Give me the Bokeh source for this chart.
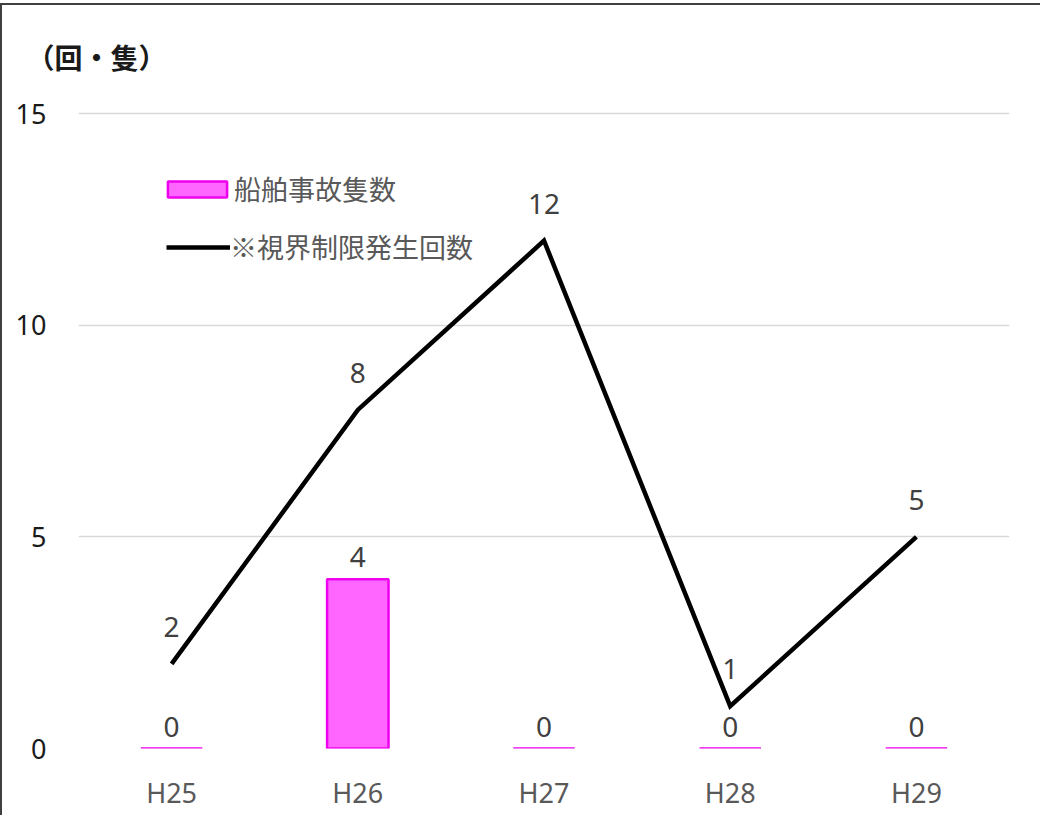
from bokeh.plotting import figure
from bokeh.models import (ColumnDataSource, FactorRange, Range1d, FixedTicker,
                          LabelSet, Legend, LegendItem)
from bokeh.core.properties import value
from bokeh.embed import file_html
from bokeh.resources import INLINE

years = ["H25", "H26", "H27", "H28", "H29"]
accidents = [0, 4, 0, 0, 0]
visibility = [2, 8, 12, 1, 5]
y_ticks = [0, 5, 10, 15]
unit_label = "（回・隻）"
bar_name = "船舶事故隻数"
line_name = "※視界制限発生回数"

src = ColumnDataSource(dict(x=years, acc=accidents, vis=visibility,
                            acc_t=[str(v) for v in accidents],
                            vis_t=[str(v) for v in visibility]))

p = figure(width=1040, height=812, output_backend="svg", toolbar_location=None,
           x_range=FactorRange(*years, range_padding=0), y_range=Range1d(0, 15.1),
           min_border_left=76, min_border_right=33, min_border_bottom=69,
           min_border_top=104, title=unit_label)
p.styles = {"border-left": "2px solid #404040", "border-top": "2px solid #404040",
            "margin-top": "3px"}
p.outline_line_color = None
p.background_fill_color = "white"
p.border_fill_color = "white"

p.title.text_font = "Noto Sans CJK JP"
p.title.text_font_size = "28px"
p.title.text_font_style = "bold"
p.title.text_color = "#1a1a1a"
p.title.align = "left"
p.title.vertical_align = "top"
p.title.offset = -52
p.title.standoff = 61

bars = p.vbar(x="x", top="acc", bottom=0, width=0.33, source=src,
              fill_color="#FF66FF", line_color="#EE00EE", line_width=2.5)
line = p.line(x="x", y="vis", source=src, line_color="black", line_width=4.5,
              line_join="miter")

p.xgrid.grid_line_color = None
p.ygrid.grid_line_color = "#d9d9d9"
p.ygrid.grid_line_width = 1.5
p.yaxis.ticker = FixedTicker(ticks=y_ticks)
for ax in (p.xaxis, p.yaxis):
    ax.axis_line_color = None
    ax.major_tick_line_color = None
    ax.minor_tick_line_color = None
    ax.major_tick_out = 0
    ax.major_tick_in = 0
    ax.major_label_text_font = "Noto Sans"
p.yaxis.major_label_text_font_size = "27px"
p.yaxis.major_label_text_color = "#1a1a1a"
p.yaxis.major_label_standoff = 32
p.xaxis.major_label_text_font_size = "27px"
p.xaxis.major_label_text_color = "#595959"
p.xaxis.major_label_standoff = 25

p.add_layout(LabelSet(x="x", y="vis", text="vis_t", source=src, y_offset=37,
                      text_align="center", text_baseline="middle",
                      text_font=value("Noto Sans"), text_font_size=value("28px"),
                      text_color="#404040"))
p.add_layout(LabelSet(x="x", y="acc", text="acc_t", source=src, y_offset=22,
                      text_align="center", text_baseline="middle",
                      text_font=value("Noto Sans"), text_font_size=value("28px"),
                      text_color="#404040"))

common = dict(border_line_color=None, background_fill_alpha=0, padding=0,
              margin=0, label_text_font="Noto Sans CJK JP",
              label_text_font_size="27px", label_text_color="#595959",
              label_text_baseline="middle", glyph_height=20, label_height=20,
              label_standoff=0)
leg1 = Legend(items=[LegendItem(label=bar_name, renderers=[bars])],
              location=(82, 540), glyph_width=74, **common)
leg2 = Legend(items=[LegendItem(label=line_name, renderers=[line])],
              location=(88, 482), glyph_width=64, **common)
p.add_layout(leg1)
p.add_layout(leg2)

open("out.html", "w").write(file_html(p, INLINE))
